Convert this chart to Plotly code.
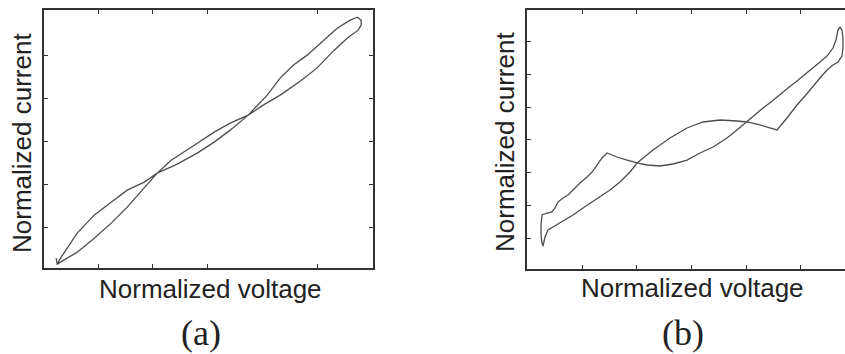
import plotly.graph_objects as go

# ---------------- Panel (a): pinched hysteresis loop ----------------
a_voltage = [0.251, 0.324, 0.616, 0.927, 1.237, 1.530, 1.840, 2.078,
             2.443, 2.808, 3.119, 3.411, 3.740,
             4.087, 4.324, 4.562, 4.817, 5.110, 5.365, 5.603, 5.731, 5.804, 5.804,
             5.749, 5.548, 5.292, 4.995, 4.689, 4.324, 4.014, 3.740,
             3.411, 3.119, 2.699, 2.333, 2.078,
             1.840, 1.530, 1.237, 0.927, 0.616, 0.288, 0.251, 0.233]
a_current = [0.140, 0.302, 0.860, 1.279, 1.581, 1.860, 2.047, 2.256,
             2.465, 2.721, 2.977, 3.256, 3.605,
             4.070, 4.465, 4.767, 5.000, 5.326, 5.628, 5.814, 5.884, 5.814, 5.698,
             5.581, 5.395, 5.093, 4.698, 4.395, 4.070, 3.837, 3.605,
             3.419, 3.209, 2.860, 2.558, 2.256,
             1.907, 1.465, 1.093, 0.744, 0.419, 0.163, 0.140, 0.279]

# ---------------- Panel (b): distorted loop ----------------
b_voltage = [0.288, 0.324, 0.379, 0.507, 0.653, 0.836, 1.018, 1.274, 1.511, 1.694, 1.877, 2.005,
             2.297, 2.607, 2.918, 3.210, 3.521, 3.831, 4.014, 4.251, 4.562,
             4.744, 4.927, 5.073, 5.219, 5.347, 5.475, 5.584, 5.676, 5.749, 5.767, 5.767, 5.749, 5.712,
             5.676, 5.639, 5.584, 5.475, 5.347, 5.219, 5.073, 4.927, 4.763, 4.616, 4.452, 4.306, 4.160, 4.014,
             3.831, 3.648, 3.393, 3.155, 2.918, 2.662, 2.425, 2.187, 2.005,
             1.822, 1.639, 1.457, 1.365, 1.274, 1.183, 1.091, 0.963, 0.836, 0.744, 0.653, 0.562,
             0.507, 0.452, 0.361, 0.269, 0.251, 0.251, 0.269, 0.288]
b_current = [0.755, 1.031, 1.245, 1.367, 1.520, 1.704, 1.918, 2.194, 2.469, 2.714, 3.020, 3.296,
             3.694, 4.061, 4.367, 4.551, 4.612, 4.581, 4.551, 4.459, 4.306,
             4.673, 5.071, 5.346, 5.652, 5.897, 6.142, 6.295, 6.387, 6.570, 6.815, 7.122, 7.366, 7.457,
             7.366, 7.060, 6.815, 6.570, 6.387, 6.203, 6.019, 5.805, 5.590, 5.376, 5.162, 4.978, 4.764, 4.551,
             4.306, 4.061, 3.785, 3.602, 3.387, 3.265, 3.204, 3.234, 3.296,
             3.387, 3.479, 3.602, 3.449, 3.234, 3.020, 2.867, 2.684, 2.469, 2.316, 2.224, 2.102,
             1.918, 1.796, 1.765, 1.704, 1.398, 1.092, 0.847, 0.755]

a_xticks = [1, 2, 3, 5]
a_yticks = [1, 2, 3, 4, 5]
b_xticks = [1, 2, 3, 4, 5]
b_yticks = [1, 2, 3, 4, 5, 6, 7]

x_title = "Normalized voltage"
y_title = "Normalized current"
panel_labels = ["(a)", "(b)"]

W, H = 845, 354
line_color = "#4d4d4d"
axis_color = "#333333"

fig = go.Figure()
fig.add_trace(go.Scatter(x=a_voltage, y=a_current, mode="lines",
                         line=dict(color=line_color, width=1.3),
                         xaxis="x", yaxis="y", showlegend=False, hoverinfo="skip"))
fig.add_trace(go.Scatter(x=b_voltage, y=b_current, mode="lines",
                         line=dict(color=line_color, width=1.3),
                         xaxis="x2", yaxis="y2", showlegend=False, hoverinfo="skip"))


def ax(domain, rng, ticks, mirror, anchor):
    return dict(domain=domain, range=rng, tickvals=ticks, showticklabels=False,
                ticks="inside", ticklen=4, tickwidth=1, tickcolor=axis_color,
                showline=True, linecolor=axis_color, linewidth=1.5, mirror=mirror,
                showgrid=False, zeroline=False, anchor=anchor, fixedrange=True)


fig.update_layout(
    width=W, height=H,
    margin=dict(l=0, r=0, t=0, b=0),
    paper_bgcolor="white", plot_bgcolor="white",
    xaxis=ax([44 / W, 373 / W], [0.01, 6.02], a_xticks, "ticks", "y"),
    yaxis=ax([1 - 268 / H, 1 - 10 / H], [0.05, 6.05], a_yticks, "ticks", "x"),
    xaxis2=ax([527 / W, 1.0], [-0.005, 5.804], b_xticks, "ticks", "y2"),
    yaxis2=ax([1 - 269 / H, 1 - 10 / H], [0.051, 7.979], b_yticks, False, "x2"),
)

label_font = dict(family="Liberation Sans, Arial, sans-serif", size=26, color="#222222")
panel_font = dict(family="Liberation Serif, Times New Roman, serif", size=36, color="#222222")

annotations = [
    dict(text=x_title, x=210 / W, y=1 - 289 / H, font=label_font),
    dict(text=x_title, x=692 / W, y=1 - 288 / H, font=label_font),
    dict(text=y_title, x=22 / W, y=1 - 143 / H, font=label_font, textangle=-90),
    dict(text=y_title, x=505 / W, y=1 - 142 / H, font=label_font, textangle=-90),
    dict(text=panel_labels[0], x=201 / W, y=1 - 333 / H, font=panel_font),
    dict(text=panel_labels[1], x=683 / W, y=1 - 333 / H, font=panel_font),
]
for a in annotations:
    a.update(xref="paper", yref="paper", showarrow=False, xanchor="center", yanchor="middle")
fig.update_layout(annotations=annotations)

fig.write_html("out.html")
